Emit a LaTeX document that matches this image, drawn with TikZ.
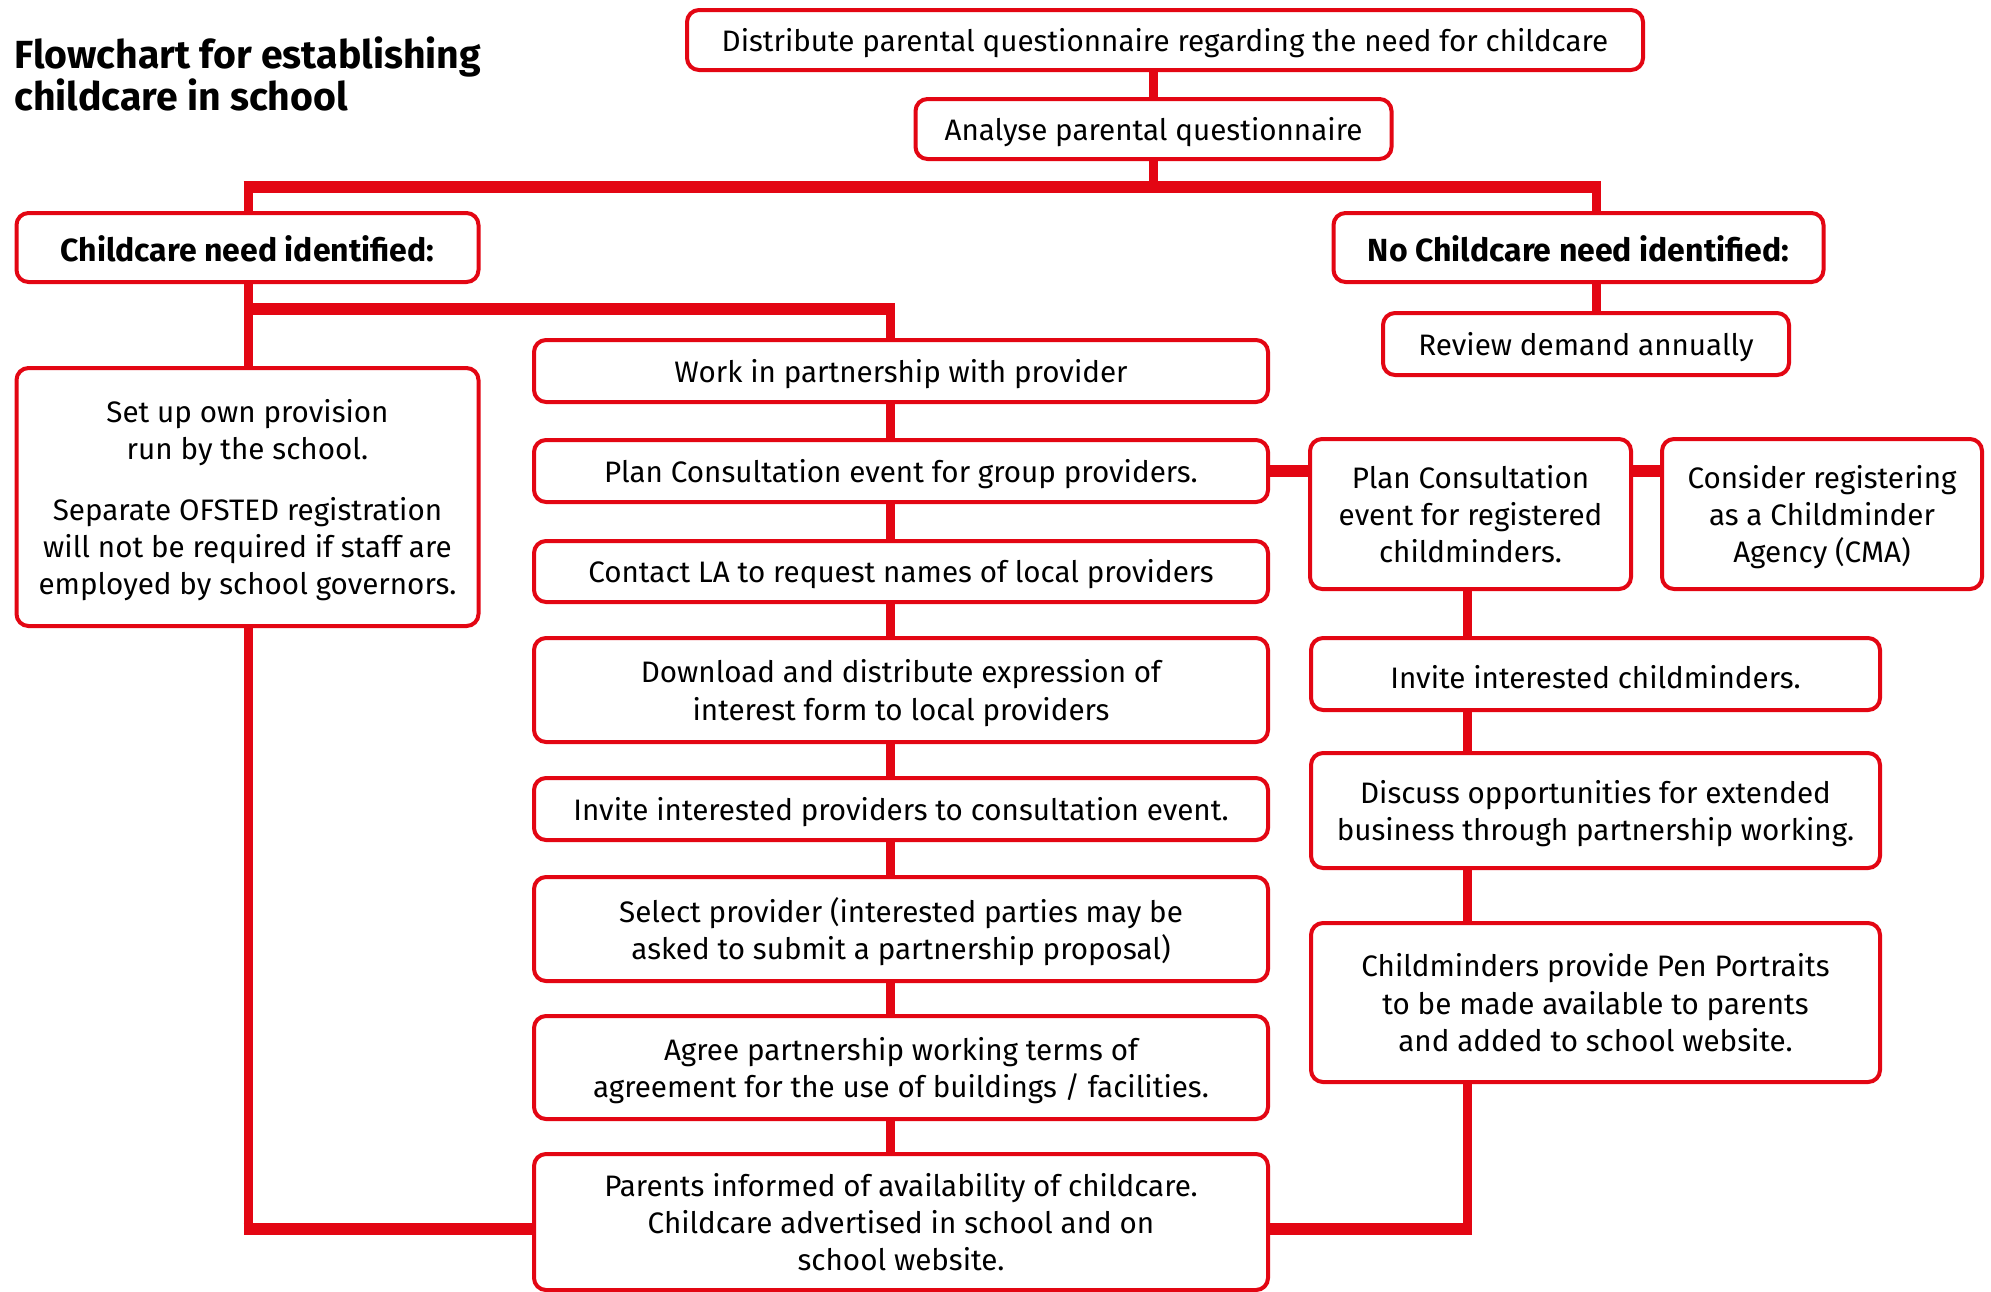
\documentclass[tikz,border=0pt]{standalone}
\usepackage{fontspec}
\setmainfont{Fira Sans}
\usetikzlibrary{backgrounds}
\definecolor{fcred}{HTML}{E30613}
\begin{document}
\begin{tikzpicture}[x=0.5pt,y=-0.5pt,
  box/.style={draw=fcred, line width=2pt, rounded corners=6pt, fill=white, align=center,
    inner sep=0pt, text=black, font=\fontsize{14.8}{18.6}\selectfont},
  sbox/.style={box, text height=14.5pt},
  bbox/.style={sbox, font=\bfseries\fontsize{16}{19}\selectfont},
  vl/.style={draw=fcred, line width=4.5pt},
  hl/.style={draw=fcred, line width=6pt},
  title/.style={align=left, inner sep=0pt, anchor=north west, text=black,
    font=\bfseries\fontsize{19.6}{21}\selectfont}]
\useasboundingbox (0,0) rectangle (1991,1291);

\node[title] (title) at (14,36) {Flowchart for establishing\\childcare in school};

\node[sbox, minimum width=478pt, minimum height=30pt] (A) at (1165,40) {Distribute parental questionnaire regarding the need for childcare};
\node[sbox, minimum width=238pt, minimum height=30pt] (B) at (1153.5,129) {Analyse parental questionnaire};
\node[bbox, minimum width=231pt, minimum height=34.5pt] (C) at (247.5,247.5) {Childcare need identified:};
\node[bbox, minimum width=245pt, minimum height=34.5pt] (D) at (1578.5,247.5) {No Childcare need identified:};
\node[sbox, minimum width=203pt, minimum height=31pt] (E) at (1586,344) {Review demand annually};
\node[box, text depth=-6.4pt, minimum width=231pt, minimum height=129pt] (F) at (247.5,497) {Set up own provision\\run by the school.\\[12pt]Separate OFSTED registration\\will not be required if staff are\\employed by school governors.};

\node[sbox, minimum width=367pt, minimum height=31pt] (G) at (901,371) {Work in partnership with provider};
\node[sbox, minimum width=367pt, minimum height=31pt] (H) at (901,471) {Plan Consultation event for group providers.};
\node[sbox, minimum width=367pt, minimum height=30.5pt] (I) at (901,571.5) {Contact LA to request names of local providers};
\node[box, text depth=-0.5pt, minimum width=367pt, minimum height=52pt] (J) at (901,690) {Download and distribute expression of\\interest form to local providers};
\node[sbox, minimum width=367pt, minimum height=31pt] (K) at (901,809) {Invite interested providers to consultation event.};
\node[box, text depth=0.5pt, minimum width=367pt, minimum height=52pt] (L) at (901,929) {Select provider (interested parties may be\\asked to submit a partnership proposal)};
\node[box, text depth=-3.2pt, minimum width=367pt, minimum height=51.5pt] (M) at (901,1067.5) {Agree partnership working terms of\\agreement for the use of buildings / facilities.};
\node[box, text depth=-2.5pt, minimum width=367pt, minimum height=68pt] (N) at (901,1222) {Parents informed of availability of childcare.\\Childcare advertised in school and on\\school website.};

\node[box, text depth=-3.2pt, minimum width=160.5pt, minimum height=75pt] (P) at (1470.5,514) {Plan Consultation\\event for registered\\childminders.};
\node[box, text depth=-2.7pt, minimum width=160pt, minimum height=75pt] (Q) at (1822,514) {Consider registering\\as a Childminder\\Agency (CMA)};
\node[sbox, minimum width=284.5pt, minimum height=36pt] (R) at (1595.5,674) {Invite interested childminders.};
\node[box, text depth=-1.5pt, minimum width=284.5pt, minimum height=57.5pt] (S) at (1595.5,810.5) {Discuss opportunities for extended\\business through partnership working.};
\node[box, text depth=-2.5pt, minimum width=284.5pt, minimum height=79.5pt] (T) at (1595.5,1002.5) {Childminders provide Pen Portraits\\to be made available to parents\\and added to school website.};

\coordinate (barL) at (248,187);
\coordinate (barR) at (1596,187);
\coordinate (jL) at (248,309);
\coordinate (jR) at (890,309);
\coordinate (bL) at (248,1229);
\coordinate (bR) at (1467,1229);

\begin{scope}[on background layer]
\fill[white] (0,0) rectangle (1991,1291);
\draw[vl] (A.south -| B.north) -- (B.north);
\draw[vl] (B.south) -- (B.south |- barL);
\draw[hl] ([xshift=-2.25pt]barL) -- ([xshift=2.25pt]barR);
\draw[vl] (barL) -- (barL |- C.north);
\draw[vl] (barR) -- (barR |- D.north);
\draw[vl] (D.south -| barR) -- (E.north -| barR);
\draw[vl] (C.south -| jL) -- (F.north -| jL);
\draw[hl] (jL) -- ([xshift=2.25pt]jR);
\draw[vl] (jR) -- (G.north -| jR);
\draw[vl] (G.south -| jR) -- (H.north -| jR);
\draw[vl] (H.south -| jR) -- (I.north -| jR);
\draw[vl] (I.south -| jR) -- (J.north -| jR);
\draw[vl] (J.south -| jR) -- (K.north -| jR);
\draw[vl] (K.south -| jR) -- (L.north -| jR);
\draw[vl] (L.south -| jR) -- (M.north -| jR);
\draw[vl] (M.south -| jR) -- (N.north -| jR);
\draw[vl] (F.south -| bL) -- (bL);
\draw[hl] ([xshift=-2.25pt]bL) -- (bL -| N.west);
\draw[hl] (H.east) -- (P.west |- H.east);
\draw[hl] (P.east |- H.east) -- (Q.west |- H.east);
\draw[vl] (P.south -| bR) -- (R.north -| bR);
\draw[vl] (R.south -| bR) -- (S.north -| bR);
\draw[vl] (S.south -| bR) -- (T.north -| bR);
\draw[vl] (T.south -| bR) -- (bR);
\draw[hl] ([xshift=2.25pt]bR) -- (bR -| N.east);
\end{scope}
\end{tikzpicture}
\end{document}
